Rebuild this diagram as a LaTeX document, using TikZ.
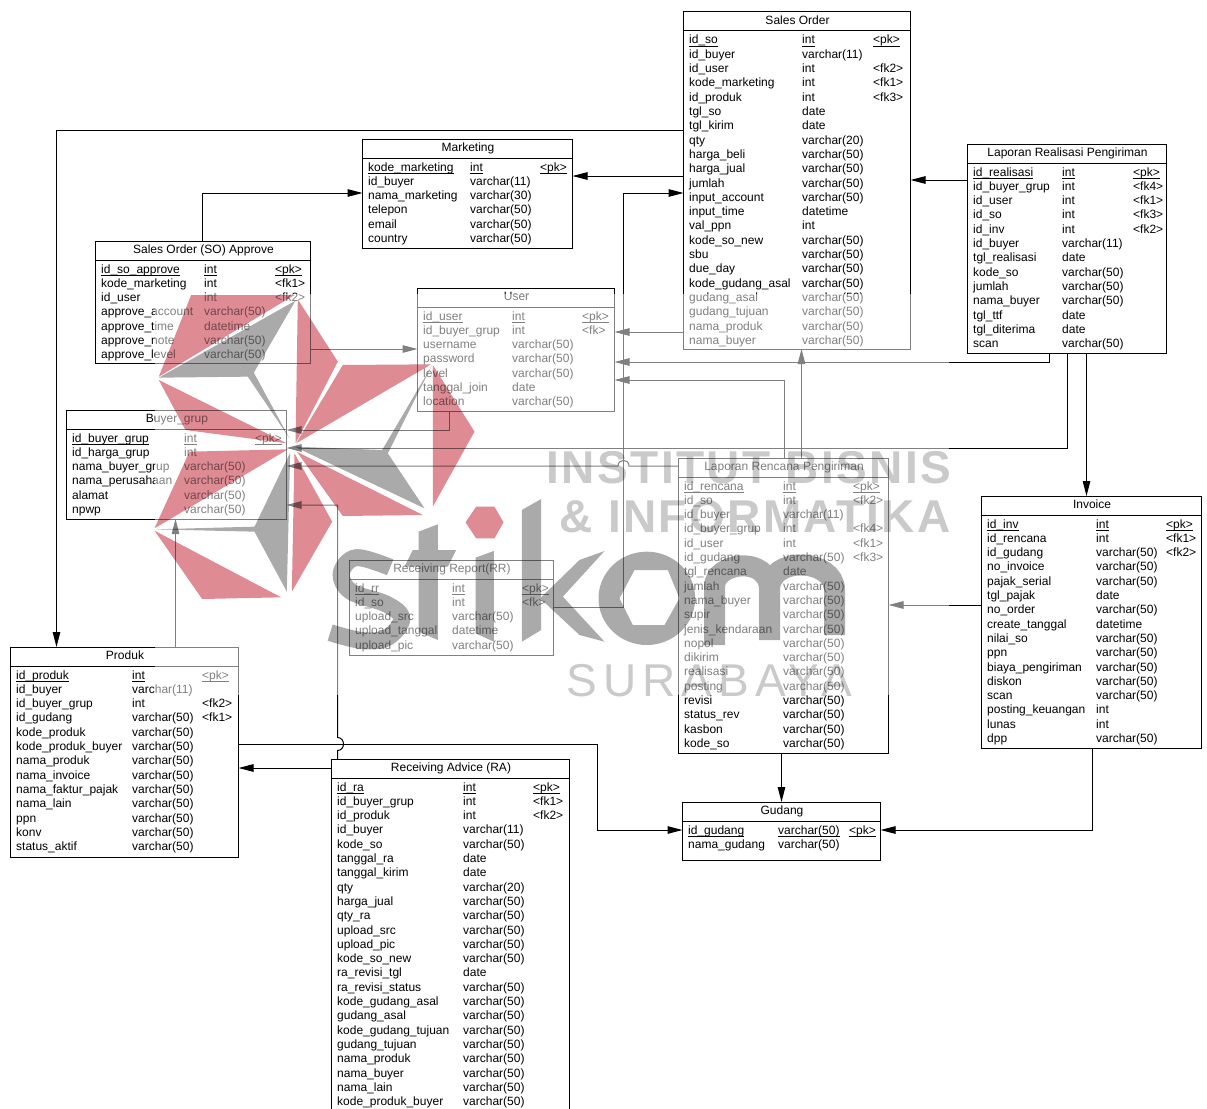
\documentclass[tikz,border=0pt]{standalone}
\usepackage{fontspec}
\setmainfont{Liberation Sans}
\usetikzlibrary{arrows.meta}
\catcode`\_=12
\definecolor{wmr}{HTML}{DF8B94}
\definecolor{wmg}{HTML}{AAAAAA}
\definecolor{wmt}{HTML}{CACACA}
\def\dashmark{-}
\newcommand{\ulbox}[1]{\setbox0=\hbox{#1}\rlap{\rule[-3pt]{\wd0}{0.9pt}}\box0 }
\tikzset{
  x=1pt,y=-1pt,
  tablebox/.style={draw=black,line width=1pt,inner sep=0pt,outer sep=0pt,anchor=north west},
  cell/.style={anchor=base west,inner sep=0pt,text=black,font=\fontsize{12}{14}\selectfont},
  ttl/.style={anchor=base,inner sep=0pt,text=black,font=\fontsize{12}{14}\selectfont},
  rel/.style={draw=black,line width=1pt,-{Triangle[length=15pt,width=7.5pt]}},
  red/.style={fill=wmr,draw=none},
  gry/.style={fill=wmg,draw=none},
  wmbig/.style={anchor=base west,inner sep=0pt,text=wmt},
}
\newcommand{\ertable}[9]{%
  \node[tablebox,minimum width={#4pt-#2pt},minimum height={#5pt-#3pt}] (#1) at (#2,#3) {};
  \draw[line width=1pt] (#2,#3+19) -- (#4,#3+19);
  \node[ttl] (#1-title) at ({(#2+#4)/2+.5},#3+12.5) {#6};
  \foreach \a/\b/\c [count=\i] in {#9} {
    \node[cell] (#1-\i-a) at ({#2+5.5},{#3+32+(\i-1)*14.3}) {\ifnum\i=1 \ulbox{\a}\else\a\fi};
    \node[cell] (#1-\i-b) at ({#7+.5},{#3+32+(\i-1)*14.3}) {\ifnum\i=1 \ulbox{\b}\else\b\fi};
    \ifx\c\dashmark\else
      \node[cell] (#1-\i-c) at ({#8+.5},{#3+32+(\i-1)*14.3}) {\ifnum\i=1 \ulbox{\c}\else\c\fi};
    \fi
  }
}
\begin{document}
\begin{tikzpicture}
\useasboundingbox (0.5,0) rectangle (1207.5,1108);
\fill[white] (0.5,0) rectangle (1207.5,1108);

\ertable{so}{684}{12}{911}{349}{Sales Order}{802}{873}{id_so/int/<pk>,id_buyer/varchar(11)/-,id_user/int/<fk2>,kode_marketing/int/<fk1>,id_produk/int/<fk3>,tgl_so/date/-,tgl_kirim/date/-,qty/varchar(20)/-,harga_beli/varchar(50)/-,harga_jual/varchar(50)/-,jumlah/varchar(50)/-,input_account/varchar(50)/-,input_time/datetime/-,val_ppn/int/-,kode_so_new/varchar(50)/-,sbu/varchar(50)/-,due_day/varchar(50)/-,kode_gudang_asal/varchar(50)/-,gudang_asal/varchar(50)/-,gudang_tujuan/varchar(50)/-,nama_produk/varchar(50)/-,nama_buyer/varchar(50)/-}

\ertable{mk}{363}{139}{573}{248}{Marketing}{470}{540}{kode_marketing/int/<pk>,id_buyer/varchar(11)/-,nama_marketing/varchar(30)/-,telepon/varchar(50)/-,email/varchar(50)/-,country/varchar(50)/-}

\ertable{ap}{96}{241}{311}{363}{Sales Order (SO) Approve}{204}{275}{id_so_approve/int/<pk>,kode_marketing/int/<fk1>,id_user/int/<fk2>,approve_account/varchar(50)/-,approve_time/datetime/-,approve_note/varchar(50)/-,approve_level/varchar(50)/-}

\ertable{us}{418}{288}{615}{411}{User}{512}{582}{id_user/int/<pk>,id_buyer_grup/int/<fk>,username/varchar(50)/-,password/varchar(50)/-,level/varchar(50)/-,tanggal_join/date/-,location/varchar(50)/-}

\ertable{bg}{67}{410}{287}{519}{Buyer_grup}{184}{255}{id_buyer_grup/int/<pk>,id_harga_grup/int/-,nama_buyer_grup/varchar(50)/-,nama_perusahaan/varchar(50)/-,alamat/varchar(50)/-,npwp/varchar(50)/-}

\ertable{lr}{968}{144}{1167}{353}{Laporan Realisasi Pengiriman}{1062}{1133}{id_realisasi/int/<pk>,id_buyer_grup/int/<fk4>,id_user/int/<fk1>,id_so/int/<fk3>,id_inv/int/<fk2>,id_buyer/varchar(11)/-,tgl_realisasi/date/-,kode_so/varchar(50)/-,jumlah/varchar(50)/-,nama_buyer/varchar(50)/-,tgl_ttf/date/-,tgl_diterima/date/-,scan/varchar(50)/-}

\ertable{rp}{679}{458}{889}{753}{Laporan Rencana Pengiriman}{783}{853}{id_rencana/int/<pk>,id_so/int/<fk2>,id_buyer/varchar(11)/-,id_buyer_grup/int/<fk4>,id_user/int/<fk1>,id_gudang/varchar(50)/<fk3>,tgl_rencana/date/-,jumlah/varchar(50)/-,nama_buyer/varchar(50)/-,supir/varchar(50)/-,jenis_kendaraan/varchar(50)/-,nopol/varchar(50)/-,dikirim/varchar(50)/-,realisasi/varchar(50)/-,posting/varchar(50)/-,revisi/varchar(50)/-,status_rev/varchar(50)/-,kasbon/varchar(50)/-,kode_so/varchar(50)/-}

\ertable{in}{982}{496}{1202}{748}{Invoice}{1096}{1166}{id_inv/int/<pk>,id_rencana/int/<fk1>,id_gudang/varchar(50)/<fk2>,no_invoice/varchar(50)/-,pajak_serial/varchar(50)/-,tgl_pajak/date/-,no_order/varchar(50)/-,create_tanggal/datetime/-,nilai_so/varchar(50)/-,ppn/varchar(50)/-,biaya_pengiriman/varchar(50)/-,diskon/varchar(50)/-,scan/varchar(50)/-,posting_keuangan/int/-,lunas/int/-,dpp/varchar(50)/-}

\ertable{rr}{350}{560}{554}{655}{Receiving Report(RR)}{452}{522}{id_rr/int/<pk>,id_so/int/<fk>,upload_src/varchar(50)/-,upload_tanggal/datetime/-,upload_pic/varchar(50)/-}

\ertable{pd}{11}{647}{239}{857}{Produk}{132}{202}{id_produk/int/<pk>,id_buyer/varchar(11)/-,id_buyer_grup/int/<fk2>,id_gudang/varchar(50)/<fk1>,kode_produk/varchar(50)/-,kode_produk_buyer/varchar(50)/-,nama_produk/varchar(50)/-,nama_invoice/varchar(50)/-,nama_faktur_pajak/varchar(50)/-,nama_lain/varchar(50)/-,ppn/varchar(50)/-,konv/varchar(50)/-,status_aktif/varchar(50)/-}

\ertable{ra}{332}{759}{570}{1114}{Receiving Advice (RA)}{463}{533}{id_ra/int/<pk>,id_buyer_grup/int/<fk1>,id_produk/int/<fk2>,id_buyer/varchar(11)/-,kode_so/varchar(50)/-,tanggal_ra/date/-,tanggal_kirim/date/-,qty/varchar(20)/-,harga_jual/varchar(50)/-,qty_ra/varchar(50)/-,upload_src/varchar(50)/-,upload_pic/varchar(50)/-,kode_so_new/varchar(50)/-,ra_revisi_tgl/date/-,ra_revisi_status/varchar(50)/-,kode_gudang_asal/varchar(50)/-,gudang_asal/varchar(50)/-,kode_gudang_tujuan/varchar(50)/-,gudang_tujuan/varchar(50)/-,nama_produk/varchar(50)/-,nama_buyer/varchar(50)/-,nama_lain/varchar(50)/-,kode_produk_buyer/varchar(50)/-}

\ertable{gd}{683}{802}{881}{860}{Gudang}{778}{849}{id_gudang/varchar(50)/<pk>,nama_gudang/varchar(50)/-}

% connectors
\draw[rel] (so.west |- 0,130) -- (57,130) -- (pd.north -| 57,0);
\draw[rel] (so.west |- 0,176) -- (mk.east |- 0,176);
\draw[rel] (rr.east |- 0,607) -- (624,607) -- (624,193) -- (so.west |- 0,193);
\draw[rel] (ap.north -| 203,0) -- (203,193) -- (mk.west |- 0,193);
\draw[rel] (ap.east |- 0,349) -- (us.west |- 0,349);
\draw[rel] (so.west |- 0,332) -- (us.east |- 0,332);
\draw[rel] (lr.south -| 1050,0) -- (1050,362) -- (us.east |- 0,362);
\draw[rel] (rp.north -| 785,0) -- (785,380) -- (us.east |- 0,380);
\draw[rel] (rp.north -| 802,0) -- (so.south -| 802,0);
\draw[rel] (lr.west |- 0,180) -- (so.east |- 0,180);
\draw[rel] (lr.south -| 1087,0) -- (in.north -| 1087,0);
\draw[rel] (lr.south -| 1068,0) -- (1068,448) -- (bg.east |- 0,448);
\draw[rel] (rp.west |- 0,466) -- (629.5,466) .. controls (629.5,458.5) and (618.5,458.5) .. (618.5,466) -- (bg.east |- 0,466);
\draw[rel] (us.south -| 450,0) -- (450,430) -- (bg.east |- 0,430);
\draw[rel] (ra.north -| 338,0) -- (338,750.5) .. controls (346,750.5) and (346,737.5) .. (338,737.5) -- (338,505) -- (bg.east |- 0,505);
\draw[rel] (pd.north -| 176,0) -- (bg.south -| 176,0);
\draw[rel] (ra.west |- 0,768) -- (pd.east |- 0,768);
\draw[rel] (pd.east |- 0,744) -- (598,744) -- (598,830) -- (gd.west |- 0,830);
\draw[rel] (rp.south -| 782,0) -- (gd.north -| 782,0);
\draw[rel] (in.south -| 1093,0) -- (1093,830) -- (gd.east |- 0,830);
\draw[rel] (in.west |- 0,605) -- (rp.east |- 0,605);

% watermark
\fill[white,opacity=.5] (155,294) rectangle (949,695);
\begin{scope}[blend mode=multiply]
\begin{scope}[xshift=60pt,yshift=-230pt,x=.33333pt,y=-.33333pt]
  \fill[red] (298,440) -- (395,195) -- (705,195) -- cycle;
  \fill[gry] (298,443) -- (708,212) -- (583,428) -- (690,625) -- (565,440) -- cycle;
  \fill[red] (715,208) -- (835,395) -- (708,640) -- cycle;
  \fill[red] (298,450) -- (378,600) -- (682,640) -- cycle;
  \fill[red] (285,895) -- (390,665) -- (685,658) -- cycle;
  \fill[gry] (285,898) -- (585,890) -- (692,668) -- (682,1085) -- (585,905) -- cycle;
  \fill[red] (285,902) -- (428,1107) -- (665,1102) -- cycle;
  \fill[red] (697,1085) -- (705,670) -- (818,875) -- cycle;
  \fill[red] (712,665) -- (850,858) -- (1090,855) -- cycle;
  \fill[gry] (705,650) -- (968,660) -- (1118,405) -- (985,670) -- (1095,835) -- cycle;
  \fill[red] (710,640) -- (850,405) -- (1115,403) -- cycle;
  \fill[red] (1120,405) -- (1245,605) -- (1120,830) -- cycle;
\end{scope}
\begin{scope}[xshift=320pt,yshift=-490pt,x=.33333pt,y=-.33333pt]
  \draw[wmg,line width=17pt,line join=round] plot[smooth,tension=.6] coordinates {(212,232) (110,203) (65,250) (95,305) (200,342) (247,385) (205,442) (130,452) (32,428)};
  \fill[gry] (297,125) -- (355,103) -- (355,180) -- (410,180) -- (385,230) -- (355,230) -- (355,450) -- (297,425) -- (297,230) -- (255,230) -- (280,180) -- (297,180) -- cycle;
  \fill[gry] (468,203) -- (523,183) -- (523,455) -- (468,430) -- cycle;
  \fill[red] (438,97) -- (470,50) -- (525,50) -- (552,97) -- (525,145) -- (470,145) -- cycle;
  \fill[gry] (607,60) -- (665,27) -- (665,420) -- (607,455) -- cycle;
  \fill[gry] (665,322) -- (780,210) -- (855,183) -- (730,320) -- (855,455) -- (780,435) -- (665,328) -- cycle;
\end{scope}
\begin{scope}[xshift=590pt,yshift=-490pt,x=.33333pt,y=-.33333pt]
  \fill[gry,even odd rule] (172,325) ellipse [x radius=145,y radius=140] (90,325) -- (135,240) -- (235,240) -- (270,325) -- (225,405) -- (130,405) -- cycle;
  \draw[wmg,line width=21pt] (375,465) -- (375,290) .. controls (375,215) and (540,195) .. (540,300) -- (540,450)
     (540,300) .. controls (540,195) and (735,205) .. (735,300) -- (735,435);
\end{scope}
\node[wmbig,font=\fontsize{46}{46}\selectfont\bfseries\addfontfeatures{LetterSpace=5.2}] (wm1) at (547,483) {INSTITUT BISNIS};
\node[wmbig,font=\fontsize{46}{46}\selectfont\bfseries\addfontfeatures{LetterSpace=5.2}] (wm2) at (560,532) {\& INFORMATIKA};
\node[wmbig,font=\fontsize{46}{46}\selectfont\addfontfeatures{LetterSpace=13}] (wm3) at (567,696) {SURABAYA};
\end{scope}
\end{tikzpicture}
\end{document}
